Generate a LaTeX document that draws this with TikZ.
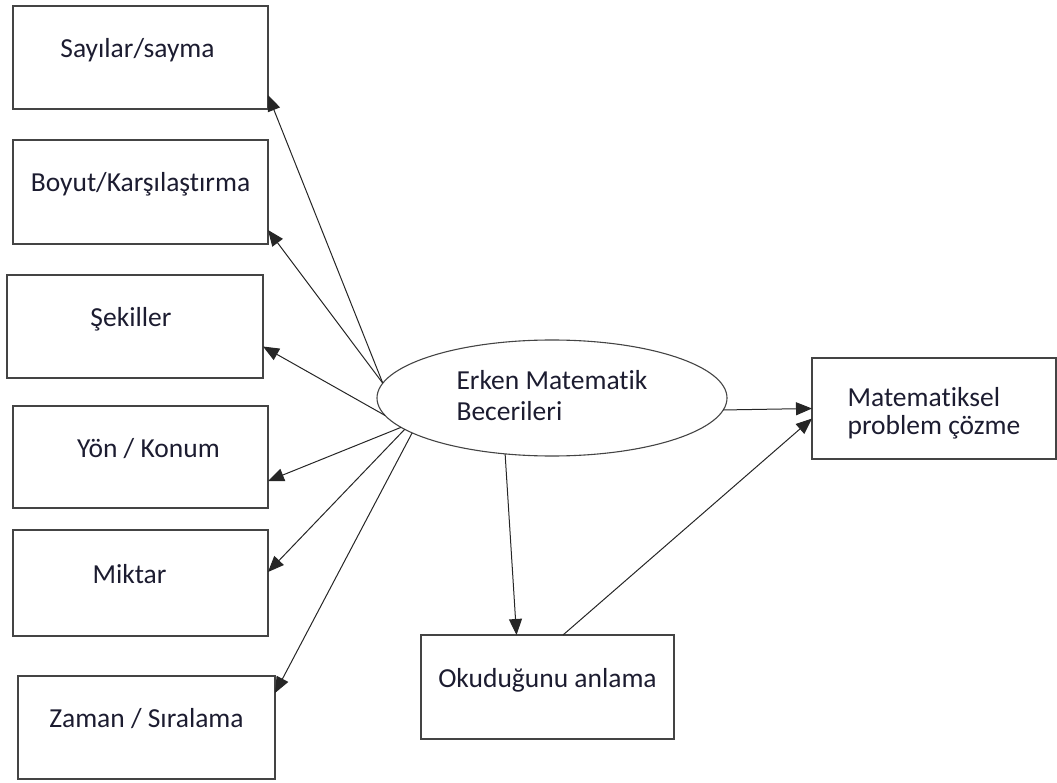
\documentclass[tikz,border=0pt]{standalone}
\usepackage{fontspec}
\setmainfont{Carlito}[Ligatures=NoCommon]
\usetikzlibrary{arrows.meta,calc,shapes.geometric}
\definecolor{edge}{HTML}{444444}
\definecolor{txt}{HTML}{1C1C30}
\begin{document}
\begin{tikzpicture}[x=1pt,y=-1pt,
  every node/.style={font=\fontsize{27.5}{31}\selectfont, text=txt},
  box/.style={draw=edge, line width=1.3pt, rectangle, inner sep=0pt, outer sep=0pt,
    text height=18pt, text depth=18pt},
  oval/.style={draw=edge, line width=1.1pt, ellipse, inner sep=0pt, outer sep=0pt,
    minimum width=350pt, minimum height=116pt, align=left, text height=44pt, text depth=0pt},
  conn/.style={draw=black!85, line width=1pt, -{Triangle[length=16pt,width=13pt]}}
]
\useasboundingbox (0,0) rectangle (1057,783);

\node[box, minimum width=255pt, minimum height=103pt] (b1) at (140.5,57.5) {Sayılar/sayma\hspace*{6pt}};
\node[box, minimum width=255pt, minimum height=104pt] (b2) at (140.5,192) {Boyut/Karşılaştırma};
\node[box, minimum width=256pt, minimum height=103pt] (b3) at (135,326.5) {Şekiller\hspace*{8pt}};
\node[box, minimum width=255pt, minimum height=102pt] (b4) at (140.5,457) {\hspace*{16pt}Yön / Konum};
\node[box, minimum width=255pt, minimum height=106pt] (b5) at (140.5,583) {Miktar\hspace*{22pt}};
\node[box, minimum width=257pt, minimum height=103pt] (b6) at (146.5,727.5) {Zaman / Sıralama};

\node[oval] (E) at (552,398) {Erken Matematik\\Becerileri};

\node[draw=edge, line width=1.3pt, rectangle, inner sep=0pt, outer sep=0pt,
  minimum width=244pt, minimum height=101pt, align=left, text height=51pt, text depth=0pt] (M) at (934,408.5)
  {Matematiksel\\[-3.5pt]problem çözme};

\node[box, minimum width=253pt, minimum height=104pt] (O) at (547.5,687) {Okuduğunu anlama};

\draw[conn] (E.175) -- ($(b1.south east)+(0,-14)$);
\draw[conn] (E.175) -- ($(b2.south east)+(0,-14)$);
\draw[conn] (E.186) -- ($(b3.east)+(0,20)$);
\draw[conn] (E.191) -- ($(b4.east)+(0,24)$);
\draw[conn] (E.192) -- ($(b5.east)+(0,-11)$);
\draw[conn] (E.194) -- ($(b6.north east)+(0,17)$);

\draw[conn] (E.-4) -- (M.west);
\draw[conn] (E.230) -- ($(O.north)+(-31,0)$);
\draw[conn] ($(O.north)+(15.5,0)$) -- ($(M.west)+(0,10)$);
\end{tikzpicture}
\end{document}
